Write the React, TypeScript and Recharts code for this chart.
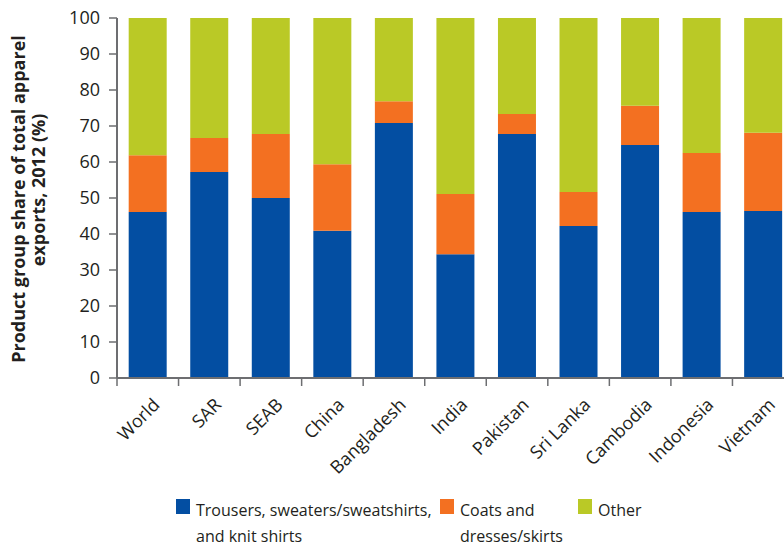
import React from 'react';
import { BarChart, Bar, XAxis, YAxis } from 'recharts';

const categories = ['World', 'SAR', 'SEAB', 'China', 'Bangladesh', 'India', 'Pakistan', 'Sri Lanka', 'Cambodia', 'Indonesia', 'Vietnam'];
const trousers = [46.1, 57.2, 50.0, 40.9, 70.8, 34.4, 67.8, 42.2, 64.7, 46.1, 46.4];
const coats = [15.8, 9.5, 17.8, 18.5, 6.1, 16.7, 5.5, 9.5, 10.9, 16.4, 21.7];
const other = [38.1, 33.3, 32.2, 40.6, 23.1, 48.9, 26.7, 48.3, 24.4, 37.5, 31.9];
const yTicks = [0, 10, 20, 30, 40, 50, 60, 70, 80, 90, 100];

const seriesNames = ['Trousers, sweaters/sweatshirts,\nand knit shirts', 'Coats and\ndresses/skirts', 'Other'];
const colors = ['#034ea2', '#f37021', '#bac926'];
const yTitle = ['Product group share of total apparel', 'exports, 2012 (%)'];

const data = categories.map((c, i) => ({ name: c, trousers: trousers[i], coats: coats[i], other: other[i] }));

const FONT = '"Open Sans", "Noto Sans", sans-serif';
const AXIS = '#6d6e71';
const TEXT = '#231f20';

const XTick = (props: any) => {
  const { x, y, payload, width, visibleTicksCount } = props;
  const band = width / (visibleTicksCount || categories.length);
  const lx = x - band / 2;
  const axisY = y - 18;
  const ax = x + 13;
  const ay = y + 10;
  return (
    <g>
      <line x1={lx} y1={axisY} x2={lx} y2={axisY + 8} stroke={AXIS} strokeWidth={1.5} />
      <text
        x={ax}
        y={ay}
        transform={`rotate(-45, ${ax}, ${ay})`}
        textAnchor="end"
        fontSize={18}
        fontFamily={FONT}
        fill={TEXT}
      >
        {payload.value}
      </text>
    </g>
  );
};

const YLabel = () => {
  const lines = [
    { x: 25, y: 199 },
    { x: 45, y: 190 },
  ];
  return (
    <g>
      {yTitle.map((t, i) => (
        <text
          key={i}
          transform={`rotate(-90, ${lines[i].x}, ${lines[i].y})`}
          x={lines[i].x}
          y={lines[i].y}
          textAnchor="middle"
          fontSize={18}
          fontWeight="bold"
          fontFamily={FONT}
          fill={TEXT}
        >
          {t}
        </text>
      ))}
    </g>
  );
};

const legendPos = [
  { sq: 176, tx: 196 },
  { sq: 440, tx: 460 },
  { sq: 578, tx: 598 },
];

export default function App() {
  return (
    <div style={{ position: 'absolute', left: 0, top: 0, width: 784, height: 548, overflow: 'hidden' }}>
      <BarChart
        width={798}
        height={548}
        data={data}
        margin={{ top: 18, right: 4, left: 0, bottom: 0 }}
        barCategoryGap="19%"
      >
        <XAxis
          dataKey="name"
          interval={0}
          tickLine={false}
          tickSize={8}
          tickMargin={10}
          height={170}
          axisLine={{ stroke: AXIS, strokeWidth: 2 }}
          tick={<XTick />}
        />
        <YAxis
          width={117}
          domain={[0, 100]}
          ticks={yTicks}
          interval={0}
          tickSize={8}
          tickMargin={9}
          axisLine={{ stroke: AXIS, strokeWidth: 2 }}
          tickLine={{ stroke: AXIS, strokeWidth: 1.5 }}
          tick={{ fontSize: 18, fontFamily: FONT, fill: TEXT }}
          label={<YLabel />}
        />
        <Bar dataKey="trousers" stackId="a" fill={colors[0]} isAnimationActive={false} />
        <Bar dataKey="coats" stackId="a" fill={colors[1]} isAnimationActive={false} />
        <Bar dataKey="other" stackId="a" fill={colors[2]} isAnimationActive={false} />
      </BarChart>
      {seriesNames.map((n, i) => (
        <div key={i} style={{ position: 'absolute', left: legendPos[i].sq, top: 499, width: 14, height: 15, background: colors[i] }} />
      ))}
      {seriesNames.map((n, i) => (
        <div
          key={'t' + i}
          style={{
            position: 'absolute',
            left: legendPos[i].tx,
            top: 497,
            fontFamily: FONT,
            fontSize: 16,
            lineHeight: '26px',
            color: TEXT,
            whiteSpace: 'pre',
          }}
        >
          {n}
        </div>
      ))}
    </div>
  );
}
